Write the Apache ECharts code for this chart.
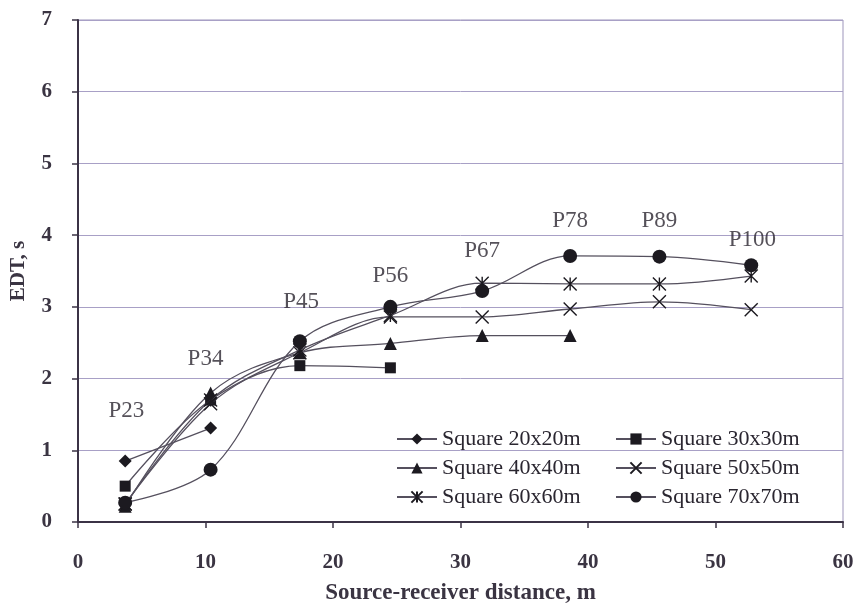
<!DOCTYPE html>
<html>
<head>
<meta charset="utf-8">
<script src="https://cdn.jsdelivr.net/npm/echarts@6/dist/echarts.min.js"></script>
<style>html,body{margin:0;padding:0;background:#fff}#c{width:861px;height:607px}</style>
</head>
<body>
<div id="c"></div>
<script>
// Source-receiver distances (m) for positions P23..P100
const distances = [3.7, 10.4, 17.4, 24.5, 31.7, 38.6, 45.6, 52.8];
const positionLabels = ['P23', 'P34', 'P45', 'P56', 'P67', 'P78', 'P89', 'P100'];
// Label anchor points (x in m, y in s)
const labelX = [3.8, 10.0, 17.5, 24.5, 31.7, 38.6, 45.6, 52.9];
const labelY = [1.55, 2.28, 3.07, 3.43, 3.78, 4.2, 4.2, 3.93];

const seriesNames = ['Square 20x20m', 'Square 30x30m', 'Square 40x40m', 'Square 50x50m', 'Square 60x60m', 'Square 70x70m'];
const edt20 = [0.85, 1.31];
const edt30 = [0.50, 1.70, 2.18, 2.15];
const edt40 = [0.22, 1.80, 2.36, 2.49, 2.60, 2.60];
const edt50 = [0.25, 1.65, 2.36, 2.86, 2.86, 2.97, 3.07, 2.96];
const edt60 = [0.25, 1.70, 2.40, 2.88, 3.33, 3.32, 3.32, 3.43];
const edt70 = [0.27, 0.73, 2.52, 3.00, 3.22, 3.71, 3.70, 3.58];

const xTicks = [0, 10, 20, 30, 40, 50, 60];
const yTicks = [0, 1, 2, 3, 4, 5, 6, 7];

const FONT = 'Liberation Serif';
const LINE = '#55505e';
const MARK = '#1c1a20';

function pairs(vals) { return vals.map((v, i) => [distances[i], v]); }

const symbols = [
  'diamond',
  'rect',
  'triangle',
  'path://M0,0L10,10M10,0L0,10',
  'path://M5,0L5,10M0,0L10,10M10,0L0,10',
  'circle'
];
const sizes = [13, 11, 13, 13, 13, 14];
const datasets = [edt20, edt30, edt40, edt50, edt60, edt70];

const lineSeries = seriesNames.map((name, i) => {
  const stroke = i === 3 || i === 4;
  return {
    name: name,
    type: 'line',
    smooth: 0.35,
    data: pairs(datasets[i]),
    symbol: symbols[i],
    symbolSize: sizes[i],
    lineStyle: { color: LINE, width: 1.3 },
    itemStyle: stroke
      ? { color: 'rgba(0,0,0,0)', borderColor: MARK, borderWidth: 1.4 }
      : { color: MARK, borderColor: MARK, borderWidth: 0 },
    emphasis: { disabled: true },
    z: 3 + i
  };
});

const labelSeries = {
  name: 'positions',
  type: 'scatter',
  symbolSize: 0,
  silent: true,
  data: positionLabels.map((n, i) => ({ name: n, value: [labelX[i], labelY[i]] })),
  label: {
    show: true,
    position: 'inside',
    formatter: p => p.name,
    fontFamily: FONT,
    fontSize: 23,
    fontWeight: 'normal',
    color: '#2a2630'
  },
  z: 10
};

const chart = echarts.init(document.getElementById('c'), null, { renderer: 'canvas' });
chart.setOption({
  animation: false,
  backgroundColor: '#fff',
  textStyle: { fontFamily: FONT },
  grid: { left: 78, right: 18, top: 20, bottom: 85, show: true, borderColor: '#9d95bb', borderWidth: 1, outerBoundsMode: 'none', containLabel: false },
  legend: {
    data: seriesNames,
    left: 391,
    top: 423,
    width: 460,
    orient: 'horizontal',
    itemWidth: 40,
    itemHeight: 14,
    itemGap: 7,
    textStyle: { fontFamily: FONT, fontSize: 22, fontWeight: 'normal', color: '#2a2630', width: 166, lineHeight: 22 },
    selectedMode: false
  },
  xAxis: {
    type: 'value',
    min: 0, max: 60, interval: 10,
    name: 'Source-receiver distance, m',
    nameLocation: 'middle',
    nameGap: 60,
    nameTextStyle: { fontFamily: FONT, fontSize: 23, fontWeight: 'bold', color: '#3a3442' },
    axisLine: { show: true, lineStyle: { color: '#3b3346', width: 2 } },
    axisTick: { show: true, length: 6, lineStyle: { color: '#3b3346', width: 1.5 } },
    axisLabel: { margin: 30, fontFamily: FONT, fontSize: 21, fontWeight: 'bold', color: '#3a3442',
      formatter: v => xTicks.includes(v) ? String(v) : '' },
    splitLine: { show: false }
  },
  yAxis: {
    type: 'value',
    min: 0, max: 7, interval: 1,
    name: 'EDT, s',
    nameLocation: 'middle',
    nameGap: 49,
    nameTextStyle: { fontFamily: FONT, fontSize: 21, fontWeight: 'bold', color: '#3a3442' },
    axisLine: { show: true, lineStyle: { color: '#3b3346', width: 2 } },
    axisTick: { show: true, length: 6, lineStyle: { color: '#3b3346', width: 1.5 } },
    axisLabel: { margin: 26, fontFamily: FONT, fontSize: 21, fontWeight: 'bold', color: '#3a3442',
      formatter: v => yTicks.includes(v) ? String(v) : '' },
    splitLine: { show: true, lineStyle: { color: '#a8a0c6', width: 1 } }
  },
  series: lineSeries.concat([labelSeries])
});
</script>
</body>
</html>
